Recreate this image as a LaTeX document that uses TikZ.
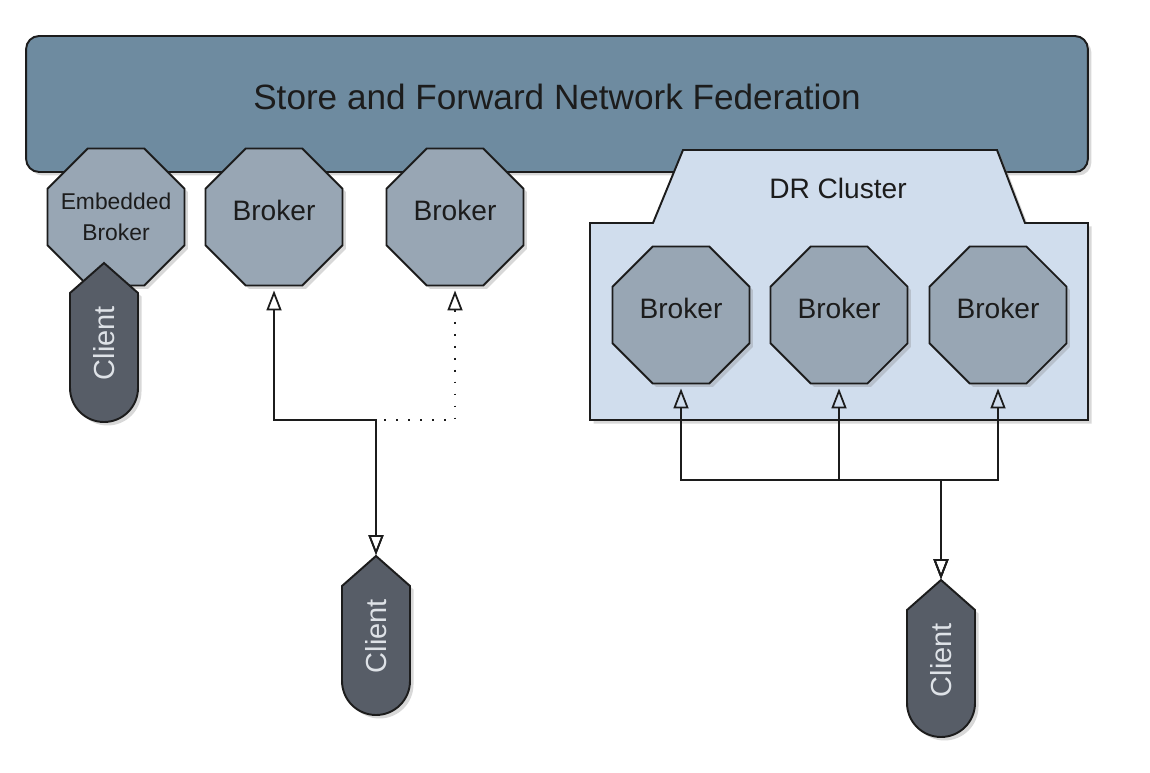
\documentclass[tikz,border=0pt]{standalone}
\usepackage{fontspec}
\setmainfont{Liberation Sans}
\usetikzlibrary{arrows.meta,shapes.geometric,shadows}
\definecolor{fedblue}{RGB}{110,139,160}
\definecolor{brokergray}{RGB}{152,166,180}
\definecolor{clusterblue}{RGB}{208,221,237}
\definecolor{clientslate}{RGB}{87,93,103}
\definecolor{clienttext}{RGB}{222,226,231}
\definecolor{inkdark}{RGB}{28,28,28}
\tikzset{
  shd/.style={drop shadow={shadow xshift=0.07cm,shadow yshift=-0.07cm,opacity=0.3}},
  fed/.style={draw=inkdark,line width=1.1pt,fill=fedblue,rounded corners=0.26cm,shd,
              minimum width=21.24cm,minimum height=2.72cm,text=inkdark,
              font=\fontsize{20}{24}\selectfont,text height=0.5cm,text depth=0.28cm},
  brk/.style={regular polygon,regular polygon sides=8,draw=inkdark,line width=1.1pt,
              fill=brokergray,minimum size=2.966cm,inner sep=0pt,text=inkdark,
              font=\fontsize{16}{19}\selectfont,shd},
  brkA/.style={brk,text height=0.42cm,text depth=0.26cm},
  brkE/.style={brk,font=\fontsize{13}{17.6}\selectfont,align=center,inner sep=-10pt},
  clus/.style={draw=inkdark,line width=1.1pt,fill=clusterblue,shd},
  clbody/.style={draw=inkdark,line width=1.1pt,fill=clientslate,shd},
  cltxt/.style={rotate=90,text=clienttext,font=\fontsize{16.5}{20}\selectfont},
  conn/.style={line width=1pt,inkdark,
               {Triangle[open,width=0.3cm,length=0.4cm]}-{Triangle[open,width=0.3cm,length=0.4cm]},
               shorten <=0.08cm,shorten >=0.02cm},
}
% client body: x, apex, bottom
\newcommand\clientshape[3]{%
  \draw[clbody] (#1,#2) -- (#1+34,#2-30) -- (#1+34,#3+34)
    arc[start angle=0,end angle=-180,radius=0.68cm] -- (#1-34,#2-30) -- cycle;
}

\begin{document}
\begin{tikzpicture}[x=0.02cm,y=0.02cm]
  \useasboundingbox[fill=white] (0,0) rectangle (1150,772);

  % federation
  \node[fed] (fed) at (557,668) {Store and Forward Network Federation};

  % DR cluster
  \draw[clus] (590,352) -- (590,549) -- (653,549) -- (683,622) -- (997,622)
    -- (1025,549) -- (1088,549) -- (1088,352) -- cycle;
  \node[font=\fontsize{16}{19}\selectfont,text=inkdark] (drlbl) at (838,584) {DR Cluster};

  % brokers
  \node[brkE] (emb) at (116,555) {Embedded\\Broker};
  \node[brkA] (b1) at (274,555) {Broker};
  \node[brkA] (b2) at (455,555) {Broker};
  \node[brkA] (c1) at (681,457) {Broker};
  \node[brkA] (c2) at (839,457) {Broker};
  \node[brkA] (c3) at (998,457) {Broker};

  % clients
  \clientshape{104}{509}{350}
  \node[cltxt] (cl1) at (104,429) {Client};
  \clientshape{376}{216}{57}
  \coordinate (cl2top) at (376,216);
  \node[cltxt] (cl2) at (376,136) {Client};
  \clientshape{941}{192}{35}
  \coordinate (cl3top) at (941,192);
  \node[cltxt] (cl3) at (941,112) {Client};

  % connectors
  \coordinate (jl) at (376,352);
  \coordinate (jr) at (941,292);
  \draw[conn] (b1.south) |- (jl) -- (cl2top);
  \draw[conn,dash pattern=on 1pt off 5.8pt] (b2.south) |- (jl) -- (cl2top);
  \foreach \b in {c1,c2,c3}
    \draw[conn] (\b.south) |- (jr) -- (cl3top);
\end{tikzpicture}
\end{document}
